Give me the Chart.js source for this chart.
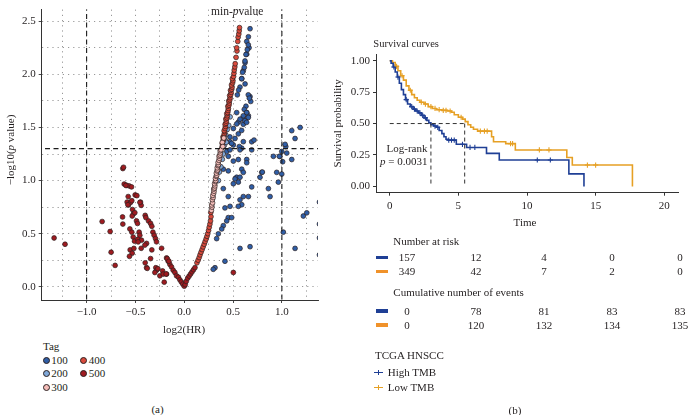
<!DOCTYPE html>
<html><head><meta charset="utf-8">
<script src="https://cdn.jsdelivr.net/npm/chart.js@4.4.0/dist/chart.umd.min.js"></script>
<style>
html,body{margin:0;padding:0;background:#fff;width:688px;height:415px;overflow:hidden;position:relative;font-family:"Liberation Serif","DejaVu Serif",serif;color:#231f20;}
canvas{position:absolute;}
.t{position:absolute;white-space:nowrap;font-size:11px;line-height:13px;height:13px;}
.dot{position:absolute;width:5px;height:5px;border-radius:50%;border:0.8px solid #2b2020;}
</style></head><body>
<canvas id="ca" style="left:0;top:0" width="340" height="340"></canvas>
<canvas id="cb" style="left:326px;top:30px" width="362" height="205"></canvas>
<div id="ov"></div>
<script>
// ---------- Panel (a) data: log2(HR) vs -log10(p value), by Tag ----------
const tagNames = ['100','200','300','400','500'];
const tagColors = ['#2f5ea6','#7fa8d8','#f4bcb8','#d94a3c','#9f1b20'];
const tag100 = [
 [0.674,2.43],[0.657,2.354],[0.64,2.31],[0.664,2.25],[0.64,2.19],[0.623,2.11],[0.605,2.035],[0.589,1.96],[0.571,1.88],[0.623,1.91],
 [0.674,1.79],[0.681,1.745],[0.64,1.64],[0.657,1.61],[0.623,1.58],[0.589,1.58],[0.605,1.53],[0.537,1.64],[0.554,1.55],[0.503,1.49],
 [0.52,1.396],[0.554,1.44],[0.469,1.365],[0.503,1.335],[0.589,1.305],[0.691,1.365],[0.435,1.274],[0.656,2.278],[0.646,2.232],[0.632,2.187],
 [0.622,2.126],[0.615,2.065],[0.598,2.02],[0.588,1.959],[0.557,1.852],[0.544,1.807],[0.656,1.807],[0.667,1.776],[0.632,1.70],[0.615,1.67],
 [0.639,1.64],[0.605,1.61],[0.656,1.594],[0.622,1.563],[0.571,1.578],[0.537,1.533],[0.588,1.472],[0.639,1.548],[0.715,1.381],[0.605,1.366],
 [0.564,1.32],[0.468,1.411],[0.485,1.35],
 [0.469,1.289],[0.571,1.289],[0.691,1.289],[0.451,1.228],[0.503,1.183],[0.554,1.198],[0.64,1.198],[0.64,1.168],[0.40,1.107],[0.451,1.091],
 [0.589,1.107],[0.605,1.077],[0.537,1.031],[0.571,1.031],[0.52,1.015],[0.776,1.031],[0.794,1.077],[0.503,0.97],[0.554,0.985],[0.40,0.924],
 [0.691,0.94],[0.605,0.849],[0.657,0.849],[0.451,0.849],[0.571,0.818],[0.589,0.772],[0.554,0.757],[0.469,0.757],[0.417,0.742],[0.862,0.924],
 [0.879,0.849],[0.451,0.651],[0.486,0.651],[0.435,0.62],[0.40,0.575],[0.384,0.544],[0.349,0.498],[0.332,0.453],[0.571,0.361],[0.674,0.377],
 [0.417,0.24],[0.315,0.179],[0.297,0.164],[0.8,1.08],
 [0.913,1.228],[0.947,1.077],[0.964,0.985],[0.981,1.228],[0.999,1.061],[1.015,0.514],[1.135,0.361],[1.05,1.259],[1.101,1.198],[1.04,1.32],
 [1.22,0.666],[1.255,0.696],[1.385,0.797],[1.385,0.59],[1.385,0.46],[1.385,0.30],[1.101,1.47],[1.187,1.50],[1.135,1.396],[1.033,1.341],
 [0.999,1.274],[1.008,1.177],[0.974,1.228]
];
const tag200 = [
 [0.39,1.2],[0.40,1.25],[0.41,1.33],[0.42,1.38],[0.425,1.43],[0.375,1.13],[0.36,1.08],[0.44,1.48],[0.43,1.36],[0.35,1.0],[0.455,1.52],[0.47,1.6]
];
const tag300 = [
 [0.278,0.72],[0.284,0.75],[0.281,0.77],[0.29,0.79],[0.288,0.82],[0.296,0.84],[0.293,0.86],[0.301,0.88],[0.305,0.9],[0.302,0.92],
 [0.31,0.93],[0.314,0.95],[0.311,0.97],[0.319,0.99],[0.323,1.0],[0.32,1.02],[0.328,1.04],[0.332,1.05],[0.329,1.07],[0.337,1.09],
 [0.341,1.1],[0.338,1.12],[0.346,1.14],[0.35,1.15],[0.347,1.17],[0.355,1.19],[0.36,1.21],[0.357,1.23],[0.366,1.24],[0.37,1.26],
 [0.368,1.28],[0.376,1.29],[0.39,1.36],[0.405,1.4],[0.395,1.32]
];
const tag400 = [
 [0.386,1.31],[0.392,1.33],[0.389,1.35],[0.398,1.37],[0.401,1.39],[0.397,1.41],[0.407,1.42],[0.41,1.44],[0.414,1.46],[0.409,1.47],
 [0.418,1.49],[0.422,1.51],[0.419,1.53],[0.428,1.54],[0.431,1.56],[0.426,1.58],[0.437,1.59],[0.44,1.61],[0.436,1.63],[0.445,1.64],
 [0.449,1.66],[0.452,1.68],[0.447,1.70],[0.458,1.71],[0.461,1.73],[0.456,1.75],[0.467,1.76],[0.47,1.78],[0.465,1.80],[0.476,1.81],
 [0.48,1.83],[0.474,1.85],[0.486,1.86],[0.49,1.88],[0.484,1.90],[0.495,1.92],[0.499,1.94],[0.493,1.96],[0.505,1.98],[0.509,2.01],
 [0.512,2.04],[0.518,2.07],[0.522,2.1],[0.531,2.16],[0.54,2.22],[0.537,2.25],[0.548,2.31],[0.552,2.35],[0.559,2.38],[0.563,2.41],
 [0.566,2.44],
 [0.13,0.225],[0.142,0.25],[0.153,0.275],[0.162,0.3],[0.172,0.325],[0.183,0.35],[0.193,0.375],[0.204,0.4],[0.214,0.425],[0.224,0.45],
 [0.233,0.475],[0.241,0.5],[0.249,0.53],[0.256,0.56],[0.263,0.59],[0.269,0.62],[0.274,0.66],[0.272,0.70]
];
const tag500 = [
 [-1.333,0.459],[-1.221,0.40],[-0.841,0.614],[-0.759,0.52],[-0.749,0.325],[-0.708,0.201],[-0.629,1.113],[-0.622,1.125],[-0.615,0.967],[-0.591,0.955],
 [-0.564,0.949],[-0.540,0.94],[-0.574,0.849],[-0.585,0.797],[-0.571,0.77],[-0.55,0.794],[-0.53,0.727],[-0.52,0.687],[-0.533,0.666],[-0.503,0.864],
 [-0.485,0.858],[-0.448,0.797],[-0.441,0.766],[-0.632,0.657],[-0.629,0.59],[-0.557,0.544],[-0.537,0.514],[-0.523,0.468],[-0.509,0.429],[-0.554,0.347],
 [-0.533,0.316],[-0.561,0.286],[-0.489,0.62],[-0.479,0.596],[-0.462,0.514],[-0.455,0.484],[-0.475,0.447],[-0.438,0.438],[-0.441,0.362],[-0.40,0.672],
 [-0.393,0.651],[-0.366,0.62],[-0.345,0.596],[-0.332,0.569],[-0.321,0.514],[-0.308,0.484],[-0.294,0.453],[-0.284,0.423],[-0.386,0.408],[-0.40,0.225],
 [-0.386,0.179],[-0.332,0.347],[-0.345,0.265],[-0.291,0.179],[-0.284,0.155],[-0.232,0.362],[-0.222,0.149],[-0.181,0.271],[-0.164,0.24],[-0.147,0.21],
 [-0.13,0.186],[-0.113,0.155],[-0.096,0.134],[-0.079,0.103],[-0.301,0.134],[-0.25,0.103],[-0.215,0.119],[-0.205,0.043],[-0.181,0.119],[-0.516,0.361],
 [-0.472,0.422],[-0.403,0.392],[-0.379,0.173],[-0.27,0.17],[-0.174,0.264],[-0.157,0.24],[-0.185,0.12],[-0.598,0.954],[-0.537,0.81],[-0.577,0.772],
 [-0.454,0.794],[-0.506,0.697],
 [-0.06,0.09],[-0.045,0.065],[-0.03,0.045],[-0.015,0.025],[0.0,0.005],[0.01,0.02],[0.02,0.05],[0.035,0.08],[0.05,0.1],[0.065,0.12],
 [0.08,0.14],[0.095,0.16],[0.11,0.18],[0.503,0.134]
];
const xTicksA = [-1.0,-0.5,0.0,0.5,1.0];
const yTicksA = [0.0,0.5,1.0,1.5,2.0,2.5];
const hrCut = [-1, 1];
const pCut = 1.301;

// ---------- Panel (b) data: Kaplan-Meier ----------
const highTime = [0,0.1,0.25,0.4,0.55,0.7,0.85,1.0,1.15,1.3,1.5,1.7,1.9,2.1,2.3,2.5,2.7,2.85,3.0,3.2,3.4,3.6,3.8,3.95,4.1,4.25,4.85,5.6,7.05,7.98,13.05,14.15];
const highSurv = [1.0,0.98,0.95,0.91,0.87,0.82,0.77,0.73,0.69,0.655,0.635,0.615,0.60,0.585,0.565,0.545,0.525,0.505,0.49,0.48,0.47,0.445,0.42,0.395,0.375,0.368,0.335,0.31,0.263,0.21,0.10,0.0];
const lowTime = [0,0.2,0.4,0.6,0.8,1.0,1.2,1.4,1.6,1.8,2.0,2.2,2.5,2.8,3.1,3.4,3.8,4.2,4.5,4.7,5.0,5.3,5.5,5.7,5.9,6.1,6.4,7.42,7.56,8.45,9.15,12.9,13.3,17.68];
const lowSurv = [1.0,0.985,0.955,0.92,0.88,0.845,0.80,0.765,0.73,0.705,0.685,0.67,0.655,0.635,0.62,0.61,0.605,0.60,0.59,0.57,0.55,0.535,0.515,0.49,0.47,0.455,0.44,0.395,0.355,0.34,0.29,0.23,0.17,0.0];
const highCensT = [0.3,0.6,1.2,1.6,1.8,2.0,2.2,2.4,2.6,3.3,3.5,4.3,4.5,4.7,5.3,5.85,6.2,10.75,11.7];
const highCensS = [0.95,0.87,0.69,0.635,0.615,0.60,0.585,0.565,0.545,0.48,0.47,0.368,0.368,0.368,0.335,0.31,0.31,0.21,0.21];
const lowCensT = [0.5,0.9,1.5,2.3,2.6,3.0,3.3,3.6,3.9,4.1,4.4,5.2,6.6,6.9,7.1,8.8,8.95,10.9,11.6,14.4,15.0];
const lowCensS = [0.955,0.88,0.765,0.67,0.655,0.635,0.62,0.61,0.605,0.605,0.60,0.55,0.44,0.44,0.44,0.34,0.34,0.29,0.29,0.17,0.17];
const medianHigh = 3.0, medianLow = 5.46;
const logRankP = '0.0031';
const riskTimes = [0,5,10,15,20];
const riskHigh = [157,12,4,0,0];
const riskLow = [349,42,7,2,0];
const eventsHigh = [0,78,81,83,83];
const eventsLow = [0,120,132,134,135];

// ---------- common ----------
const FONT = "'Liberation Serif','DejaVu Serif',serif";
const INK = '#231f20';
const BLUE = '#1f3f95', ORANGE = '#e6a024', BAR_ORANGE = '#f0922a';
Chart.defaults.font.family = FONT;
Chart.defaults.color = INK;
Chart.defaults.animation = false;

function minusFmt(v, d){ const s = Math.abs(v).toFixed(d); return (v < -1e-9 ? '\u2212' : '') + s; }
function isMajor(v, arr){ return arr.some(a => Math.abs(a - v) < 1e-6); }
function drawRich(ctx, parts, x, y, size, align, rot){
  ctx.save(); ctx.translate(x, y); ctx.rotate(rot || 0);
  ctx.textBaseline = 'middle'; ctx.fillStyle = INK; ctx.textAlign = 'left';
  let w = 0;
  parts.forEach(p => { ctx.font = (p.i ? 'italic ' : '') + size + 'px ' + FONT; p.w = ctx.measureText(p.t).width; w += p.w; });
  let cx = align === 'center' ? -w/2 : (align === 'right' ? -w : 0);
  parts.forEach(p => { ctx.font = (p.i ? 'italic ' : '') + size + 'px ' + FONT; ctx.fillText(p.t, cx, 0); cx += p.w; });
  ctx.restore();
}
const pts = a => a.map(p => ({x:p[0], y:p[1]}));
const tagData = [tag100, tag200, tag300, tag400, tag500];

// ---------- Chart A ----------
const refStyle = {type:'line', showLine:true, borderColor:'#1a1a1a', borderWidth:1.1, borderDash:[5,3.5], pointRadius:0, fill:false};
const dsA = [
  Object.assign({data:[{x:hrCut[0],y:-0.2},{x:hrCut[0],y:2.7}]}, refStyle),
  Object.assign({data:[{x:hrCut[1],y:-0.2},{x:hrCut[1],y:2.7}]}, refStyle),
  Object.assign({data:[{x:-1.6,y:pCut},{x:1.5,y:pCut}]}, refStyle)
];
[2,3,4,1,0].forEach(i => dsA.push({
  type:'scatter', label:tagNames[i], data:pts(tagData[i]),
  backgroundColor:tagColors[i], borderColor:'#2b2020', borderWidth:0.7, pointRadius:2.4
}));
const plugA = {id:'textA', afterDraw(c){
  const ctx = c.ctx;
  drawRich(ctx, [{t:'\u2212log10('},{t:'p',i:true},{t:' value)'}], 11, 150, 11, 'center', -Math.PI/2);
  drawRich(ctx, [{t:'log2(HR)'}], 184, 330, 11, 'center', 0);
  drawRich(ctx, [{t:'min-'},{t:'p',i:true},{t:'value'}], 211, 12, 11.5, 'left', 0);
}};
new Chart(document.getElementById('ca'), {
  type:'scatter',
  data:{datasets:dsA},
  options:{
    responsive:false, animation:false,
    layout:{padding:{left:0,right:22,top:0,bottom:0}},
    plugins:{legend:{display:false}, tooltip:{enabled:false}},
    scales:{
      x:{type:'linear', min:-1.46, max:1.37, afterFit(s){ s.height = 40; },
         ticks:{stepSize:0.25, includeBounds:false, autoSkip:false, maxRotation:0, padding:3, font:{size:11}, color:INK,
                callback:v => isMajor(v, xTicksA) ? minusFmt(v,1) : ''},
         grid:{color:'#8c8c8c', lineWidth:0.9, tickLength:3, tickColor:c => (c.tick && isMajor(c.tick.value, xTicksA)) ? '#333' : 'rgba(0,0,0,0)'},
         border:{display:true, color:'#333', width:1, dash:[1.2,4]}},
      y:{type:'linear', min:-0.125, max:2.61, afterFit(s){ s.width = 41.7; },
         ticks:{stepSize:0.25, includeBounds:false, autoSkip:false, padding:3, font:{size:11}, color:INK,
                callback:v => isMajor(v, yTicksA) ? minusFmt(v,1) : ''},
         grid:{color:'#8c8c8c', lineWidth:0.9, tickLength:3, tickColor:c => (c.tick && isMajor(c.tick.value, yTicksA)) ? '#333' : 'rgba(0,0,0,0)'},
         border:{display:true, color:'#333', width:1, dash:[1.2,4]}}
    }
  },
  plugins:[plugA]
});

// ---------- Chart B ----------
const medStyle = {type:'line', borderColor:'#333', borderWidth:1, borderDash:[4,3], pointRadius:0, fill:false};
const km = (t, s) => t.map((v, i) => ({x:v, y:s[i]}));
const dsB = [
  Object.assign({data:[{x:0,y:0.5},{x:medianLow,y:0.5}]}, medStyle),
  Object.assign({data:[{x:medianHigh,y:0.5},{x:medianHigh,y:0}]}, medStyle),
  Object.assign({data:[{x:medianLow,y:0.5},{x:medianLow,y:0}]}, medStyle),
  {type:'scatter', data:km(highCensT, highCensS), pointStyle:'cross', pointRadius:2.6, borderColor:BLUE, borderWidth:1.1, backgroundColor:BLUE},
  {type:'scatter', data:km(lowCensT, lowCensS), pointStyle:'cross', pointRadius:2.6, borderColor:ORANGE, borderWidth:1.1, backgroundColor:ORANGE},
  {label:'High TMB', data:km(highTime, highSurv), stepped:true, borderColor:BLUE, borderWidth:1.6, pointRadius:0, fill:false},
  {label:'Low TMB', data:km(lowTime, lowSurv), stepped:true, borderColor:ORANGE, borderWidth:1.6, pointRadius:0, fill:false}
];
const plugB = {id:'textB', afterDraw(c){
  const ctx = c.ctx;
  drawRich(ctx, [{t:'Survival probability'}], 12, 93.3, 11, 'center', -Math.PI/2);
  drawRich(ctx, [{t:'Time'}], 199, 193, 11, 'center', 0);
  drawRich(ctx, [{t:'Log-rank'}], 101.5, 119.3, 11, 'right', 0);
  drawRich(ctx, [{t:'p',i:true},{t:' = ' + logRankP}], 101.5, 131.7, 11, 'right', 0);
}};
new Chart(document.getElementById('cb'), {
  type:'line',
  data:{datasets:dsB},
  options:{
    responsive:false, animation:false,
    layout:{padding:{left:0,right:10,top:24.4,bottom:0}},
    plugins:{legend:{display:false}, tooltip:{enabled:false}},
    scales:{
      x:{type:'linear', min:-1, max:21, afterFit(s){ s.height = 42.3; },
         ticks:{stepSize:5, includeBounds:false, autoSkip:false, maxRotation:0, padding:4, font:{size:11}, color:INK},
         grid:{drawOnChartArea:false, drawTicks:true, tickLength:3, tickColor:'#333'},
         border:{display:true, color:'#333', width:1}},
      y:{type:'linear', min:-0.05, max:1.05, afterFit(s){ s.width = 50; },
         ticks:{stepSize:0.25, includeBounds:false, autoSkip:false, padding:3, font:{size:11}, color:INK, callback:v => v.toFixed(2)},
         grid:{drawOnChartArea:false, drawTicks:true, tickLength:3, tickColor:'#333'},
         border:{display:true, color:'#333', width:1}}
    }
  },
  plugins:[plugB]
});

// ---------- HTML text overlays (legends, risk tables, panel labels) ----------
const ov = document.getElementById('ov');
function txt(s, x, yc, opt){
  opt = opt || {};
  const d = document.createElement('div');
  d.className = 't'; d.textContent = s;
  d.style.left = x + 'px'; d.style.top = (yc - 6.5) + 'px';
  if (opt.size) d.style.fontSize = opt.size + 'px';
  if (opt.align === 'center') d.style.transform = 'translateX(-50%)';
  if (opt.align === 'right') d.style.transform = 'translateX(-100%)';
  ov.appendChild(d); return d;
}
function box(x, y, w, h, color){
  const d = document.createElement('div');
  d.style.cssText = 'position:absolute;left:'+x+'px;top:'+y+'px;width:'+w+'px;height:'+h+'px;background:'+color;
  ov.appendChild(d);
}
// Tag legend
txt('Tag', 43, 346);
const legPos = [[46.3,360],[46.3,373.5],[46.3,387.7],[83.7,360],[83.7,373.5]];
tagNames.forEach((n, i) => {
  const [cx, cy] = legPos[i];
  const d = document.createElement('div'); d.className = 'dot';
  d.style.left = (cx - 3.3) + 'px'; d.style.top = (cy - 3.3) + 'px'; d.style.background = tagColors[i];
  ov.appendChild(d);
  txt(n, cx + 5, cy);
});
txt('(a)', 157.5, 409.5, {align:'center'});
// Survival title
txt('Survival curves', 373.3, 43.3, {size:10.5});
// Risk tables
const colX = [407,476,544,612,680];
txt('Number at risk', 393.3, 241.7);
[[riskHigh,257.3,BLUE],[riskLow,271.7,BAR_ORANGE]].forEach(([arr,y,col]) => {
  box(376, y-1.6, 12, 3.4, col);
  arr.forEach((v, i) => txt(String(v), colX[i], y, {align:'center'}));
});
txt('Cumulative number of events', 393.3, 292.3);
[[eventsHigh,311,BLUE],[eventsLow,325,BAR_ORANGE]].forEach(([arr,y,col]) => {
  box(376, y-1.6, 12, 3.4, col);
  arr.forEach((v, i) => txt(String(v), colX[i], y, {align:'center'}));
});
// Survival legend
txt('TCGA HNSCC', 375, 355);
[['High TMB',372.3,BLUE],['Low TMB',387.7,ORANGE]].forEach(([n,y,col]) => {
  box(374, y-0.6, 9, 1.3, col);
  box(377.8, y-2.8, 1.4, 5.2, col);
  txt(n, 387.7, y);
});
txt('(b)', 515, 410, {align:'center'});
</script>
</body></html>
